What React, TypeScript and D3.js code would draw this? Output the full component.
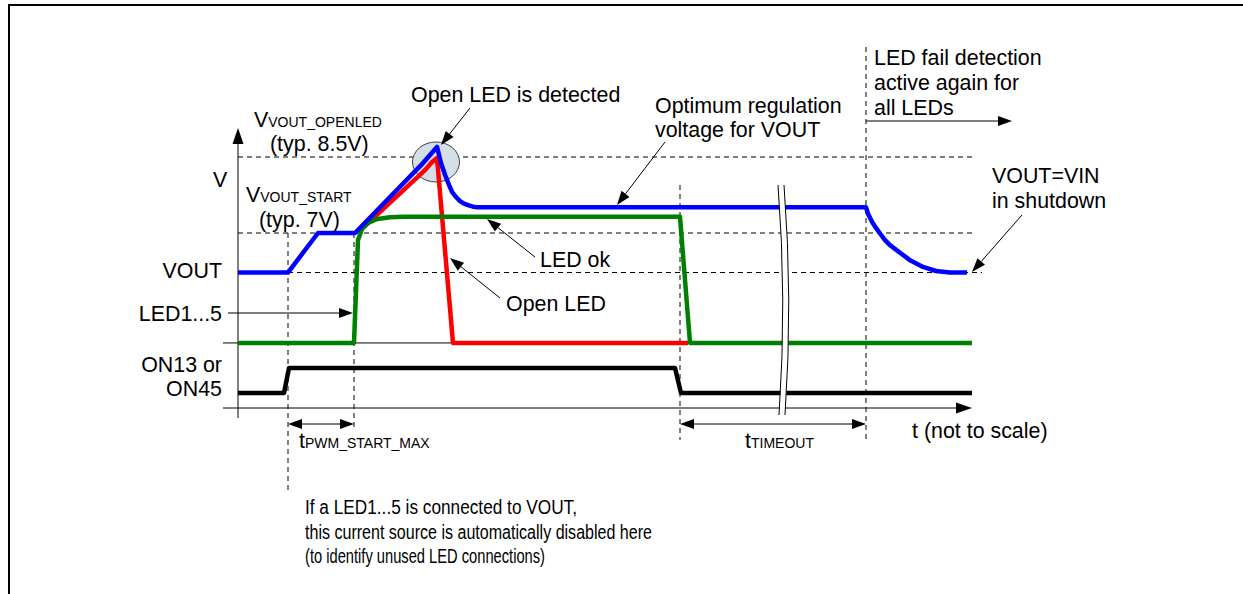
import React from "react";
import * as d3 from "d3";

const W = 1243;
const H = 594;
const FONT = "'Liberation Sans', Arial, Helvetica, sans-serif";

// ---- data (time is in arbitrary, not-to-scale units) ----
// VOUT trace: [time, volts]
const voutTrace: [number, number][] = [
  [0, 6.22], [50, 6.22], [80, 7.0], [117, 7.0], [185, 8.38], [192, 8.54], [199, 8.7],
  [203, 8.38], [207, 8.15], [211, 7.95], [214, 7.81], [218, 7.71], [222, 7.63],
  [226, 7.58], [230, 7.55], [235, 7.52], [239, 7.51], [628, 7.51], [630, 7.38],
  [634, 7.22], [638, 7.1], [642, 6.99], [647, 6.86], [652, 6.76], [662, 6.61],
  [673, 6.45], [685, 6.33], [698, 6.25], [712, 6.22], [729, 6.22],
];
// Open LED channel: [time, volts]
const openLedTrace: [number, number][] = [
  [126, 7.12], [187, 8.24], [193, 8.38], [199, 8.48], [215, 4.83], [450, 4.83],
];
// LED ok channel: [time, volts]
const ledOkTrace: [number, number][] = [
  [0, 4.83], [116, 4.83], [120, 6.86], [124, 7.08], [130, 7.2], [138, 7.27],
  [152, 7.31], [165, 7.32], [442, 7.32], [452, 4.83], [734, 4.83],
];
// ON13 / ON45 logic: [time, level]
const onTrace: [number, number][] = [
  [0, 0], [46, 0], [51, 1], [437, 1], [443, 0], [734, 0],
];
// voltage reference levels
const vOpenLed = 8.5;
const vStart = 7.0;
const vIn = 6.22;
const ledLow = 4.83;
// time markers
const tOn = 50;
const tPwmStart = 116;
const tOff = 442;
const tTimeoutEnd = 628;
const tBreak = 543;
const tPeak = 198;
const tEnd = 734;
// footnote lines
const noteLines = [
  "If a LED1...5 is connected to VOUT,",
  "this current source is automatically disabled here",
  "(to identify unused LED connections)",
];
const noteWidths = [272, 347, 240];

const x = d3.scaleLinear().domain([0, 734]).range([238, 972]);
const yV = d3.scaleLinear().domain([7, 8.5]).range([233, 157]);
const yL = d3.scaleLinear().domain([0, 1]).range([393, 368]);

const lineV = d3.line<[number, number]>().x((d) => x(d[0])).y((d) => yV(d[1]));
const lineL = d3.line<[number, number]>().x((d) => x(d[0])).y((d) => yL(d[1]));

function Arrow({ x1, y1, x2, y2, len = 14, hw = 5, sw = 1 }: any) {
  const a = Math.atan2(y2 - y1, x2 - x1);
  const bx = x2 - len * Math.cos(a);
  const by = y2 - len * Math.sin(a);
  const px = -Math.sin(a) * hw;
  const py = Math.cos(a) * hw;
  return (
    <g>
      <line x1={x1} y1={y1} x2={bx} y2={by} stroke="#000" strokeWidth={sw} />
      <polygon points={`${x2},${y2} ${bx + px},${by + py} ${bx - px},${by - py}`} fill="#000" />
    </g>
  );
}

function DoubleArrow({ x1, x2, y }: any) {
  const mid = (x1 + x2) / 2;
  return (
    <g>
      <Arrow x1={mid} y1={y} x2={x1} y2={y} />
      <Arrow x1={mid} y1={y} x2={x2} y2={y} />
    </g>
  );
}

const dash = "5,4";

export default function App() {
  const txt = { fontFamily: FONT, fontSize: 21.4, fill: "#000" } as any;
  const sub = { fontSize: 14 } as any;
  const xb = x(tBreak);
  return (
    <svg width={W} height={H} style={{ position: "absolute", left: 0, top: 0, background: "#fff" }}>
      {/* frame */}
      <line x1={9} y1={H} x2={9} y2={5} stroke="#000" strokeWidth={2} />
      <line x1={8} y1={5} x2={W} y2={5} stroke="#000" strokeWidth={2} />

      {/* horizontal dashed reference levels */}
      <line x1={x(0)} x2={x(tEnd)} y1={yV(vOpenLed)} y2={yV(vOpenLed)} stroke="#000" strokeDasharray={dash} />
      <line x1={x(0)} x2={x(tEnd)} y1={yV(vStart)} y2={yV(vStart)} stroke="#000" strokeDasharray={dash} />
      <line x1={x(tOn)} x2={x(tEnd) + 10} y1={yV(vIn)} y2={yV(vIn)} stroke="#000" strokeDasharray={dash} />

      {/* vertical dashed markers */}
      <line x1={x(tOn)} x2={x(tOn)} y1={yV(vStart)} y2={492} stroke="#000" strokeDasharray={dash} />
      <line x1={x(tPwmStart)} x2={x(tPwmStart)} y1={yV(vStart)} y2={428} stroke="#000" strokeDasharray={dash} />
      <line x1={x(tOff)} x2={x(tOff)} y1={185} y2={440} stroke="#000" strokeDasharray={dash} />
      <line x1={x(tTimeoutEnd)} x2={x(tTimeoutEnd)} y1={47} y2={440} stroke="#000" strokeDasharray={dash} />

      {/* solid baselines */}
      <line x1={223} x2={x(tEnd)} y1={yV(ledLow)} y2={yV(ledLow)} stroke="#000" strokeWidth={1} />
      <Arrow x1={223} y1={408} x2={x(tEnd)} y2={408} len={16} hw={5.5} />
      <Arrow x1={x(0)} y1={418} x2={x(0)} y2={128} len={16} hw={5.5} />

      {/* detection ellipse */}
      <ellipse cx={x(tPeak)} cy={162} rx={23.5} ry={20} fill="#d3e0e8" stroke="#444" strokeWidth={1} />

      {/* traces */}
      <path d={lineV(openLedTrace)!} fill="none" stroke="#ff0000" strokeWidth={4.5} strokeLinejoin="round" />
      <path d={lineV(ledOkTrace)!} fill="none" stroke="#008000" strokeWidth={4.5} strokeLinejoin="round" />
      <path d={lineV(voutTrace)!} fill="none" stroke="#0000ff" strokeWidth={4.5} strokeLinejoin="round" />
      <path d={lineL(onTrace)!} fill="none" stroke="#000" strokeWidth={4.5} strokeLinejoin="round" />

      {/* break marks */}
      <path d={`M${xb - 3},185 Q${xb + 6},300 ${xb - 2},415 L${xb + 4},415 Q${xb + 12},300 ${xb + 3},185 Z`} fill="#fff" stroke="none" />
      <path d={`M${xb - 3},185 Q${xb + 6},300 ${xb - 2},415`} fill="none" stroke="#000" strokeWidth={1} />
      <path d={`M${xb + 3},185 Q${xb + 12},300 ${xb + 4},415`} fill="none" stroke="#000" strokeWidth={1} />

      {/* dimension arrows */}
      <DoubleArrow x1={x(tOn)} x2={x(tPwmStart)} y={424} />
      <DoubleArrow x1={x(tOff)} x2={x(tTimeoutEnd)} y={424} />

      {/* annotation arrows */}
      <Arrow x1={470} y1={108} x2={441} y2={145} />
      <Arrow x1={228} y1={313} x2={x(tPwmStart) - 1} y2={313} />
      <Arrow x1={535} y1={257} x2={487} y2={219} />
      <Arrow x1={500} y1={298} x2={450} y2={258} />
      <Arrow x1={665} y1={142} x2={617} y2={205} />
      <Arrow x1={x(tTimeoutEnd)} y1={121} x2={1012} y2={121} />
      <Arrow x1={1022} y1={215} x2={972} y2={272} />

      {/* texts */}
      <text {...txt} x={411} y={102}>Open LED is detected</text>
      <text {...txt} x={254} y={127}>V<tspan {...sub}>VOUT_OPENLED</tspan></text>
      <text {...txt} x={270} y={151}>(typ. 8.5V)</text>
      <text {...txt} x={213} y={187}>V</text>
      <text {...txt} x={246} y={202}>V<tspan {...sub}>VOUT_START</tspan></text>
      <text {...txt} x={259} y={227}>(typ. 7V)</text>
      <text {...txt} x={222} y={278} textAnchor="end">VOUT</text>
      <text {...txt} x={222} y={321} textAnchor="end">LED1...5</text>
      <text {...txt} x={222} y={372} textAnchor="end">ON13 or</text>
      <text {...txt} x={222} y={396} textAnchor="end">ON45</text>
      <text {...txt} x={540} y={267}>LED ok</text>
      <text {...txt} x={506} y={311}>Open LED</text>
      <text {...txt} x={655} y={113}>Optimum regulation</text>
      <text {...txt} x={655} y={137}>voltage for VOUT</text>
      <text {...txt} x={874} y={65}>LED fail detection</text>
      <text {...txt} x={874} y={90}>active again for</text>
      <text {...txt} x={874} y={115}>all LEDs</text>
      <text {...txt} x={992} y={183}>VOUT=VIN</text>
      <text {...txt} x={992} y={208}>in shutdown</text>
      <text {...txt} x={299} y={448}>t<tspan {...sub}>PWM_START_MAX</tspan></text>
      <text {...txt} x={745} y={448}>t<tspan {...sub}>TIMEOUT</tspan></text>
      <text {...txt} x={912} y={438}>t (not to scale)</text>
      {noteLines.map((s, i) => (
        <text key={i} {...txt} fontSize={20} x={305} y={514 + i * 24.5}
          textLength={noteWidths[i]} lengthAdjust="spacingAndGlyphs">{s}</text>
      ))}
    </svg>
  );
}
